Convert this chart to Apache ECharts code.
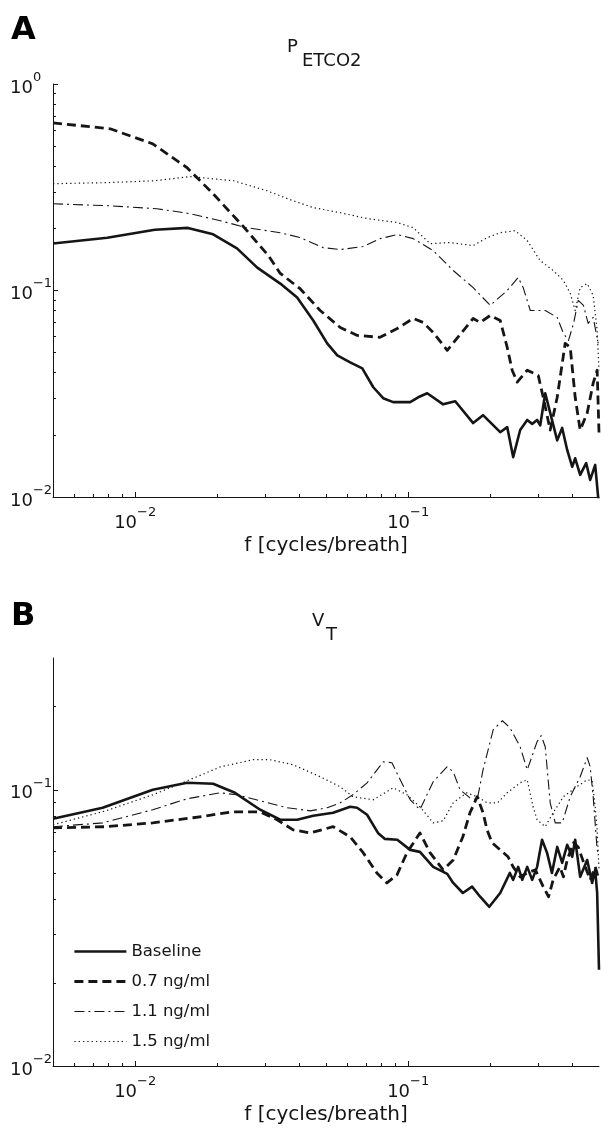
<!DOCTYPE html>
<html>
<head>
<meta charset="utf-8">
<script src="https://cdn.jsdelivr.net/npm/echarts@6.0.0/dist/echarts.min.js"></script>
<style>
html,body{margin:0;padding:0;background:#fff;}
#c{width:601px;height:1129px;}
</style>
</head>
<body>
<div id="c"></div>
<script>
// ---------------- data ----------------
const seriesNames = ['Baseline', '0.7 ng/ml', '1.1 ng/ml', '1.5 ng/ml'];
const panelTitles = [['P', 'ETCO2'], ['V', 'T']];
const panelLetters = ['A', 'B'];
const xAxisName = 'f [cycles/breath]';

const xMajorTicks = [0.01, 0.1];
const xMinorTicks = [0.006, 0.007, 0.008, 0.009, 0.02, 0.03, 0.04, 0.05, 0.06, 0.07, 0.08, 0.09, 0.2, 0.3, 0.4];
const yMajorTicksA = [0.01, 0.1, 1];
const yMinorTicksA = [0.02, 0.03, 0.04, 0.05, 0.06, 0.07, 0.08, 0.09, 0.2, 0.3, 0.4, 0.5, 0.6, 0.7, 0.8, 0.9];
const yMajorTicksB = [0.01, 0.1];
const yMinorTicksB = [0.02, 0.03, 0.04, 0.05, 0.06, 0.07, 0.08, 0.09, 0.2];

// Panel A : P_ETCO2 spectra  [frequency (cycles/breath), power]
const A_baseline = [[0.005,0.169],[0.0079,0.180],[0.0118,0.197],[0.0156,0.201],[0.0193,0.187],[0.0236,0.160],[0.028,0.129],[0.034,0.108],[0.0392,0.0925],[0.0449,0.0716],[0.0505,0.0555],[0.055,0.0485],[0.0613,0.0449],[0.0679,0.042],[0.0745,0.034],[0.081,0.0301],[0.0881,0.0288],[0.1017,0.0288],[0.1088,0.0304],[0.1174,0.0318],[0.1343,0.0281],[0.1487,0.0291],[0.173,0.0228],[0.188,0.0249],[0.2173,0.0206],[0.2305,0.0218],[0.2424,0.0156],[0.2572,0.0211],[0.2729,0.0236],[0.2846,0.0226],[0.2967,0.0236],[0.3045,0.0222],[0.3177,0.0318],[0.3514,0.0188],[0.3665,0.0216],[0.3823,0.0169],[0.3989,0.014],[0.409,0.0154],[0.4266,0.0128],[0.4487,0.0146],[0.4642,0.0121],[0.4842,0.0143],[0.5,0.009]];
const A_07 = [[0.005,0.648],[0.0081,0.607],[0.0116,0.513],[0.0155,0.393],[0.0193,0.294],[0.0249,0.204],[0.0307,0.148],[0.034,0.121],[0.0402,0.102],[0.0476,0.080],[0.0564,0.0662],[0.0651,0.0606],[0.0789,0.0593],[0.0912,0.0655],[0.1043,0.0732],[0.1135,0.070],[0.1235,0.0626],[0.139,0.0513],[0.173,0.0732],[0.1835,0.070],[0.1997,0.0757],[0.2173,0.0716],[0.2305,0.0531],[0.2404,0.0411],[0.2508,0.036],[0.2729,0.0411],[0.2995,0.0388],[0.3123,0.0304],[0.3313,0.0211],[0.3515,0.0304],[0.3759,0.0555],[0.3923,0.0531],[0.409,0.0304],[0.4266,0.0211],[0.4526,0.0255],[0.476,0.0356],[0.4923,0.0411],[0.5,0.0204]];
const A_11 = [[0.005,0.263],[0.0079,0.2575],[0.012,0.249],[0.0159,0.2355],[0.0205,0.2177],[0.0257,0.2013],[0.034,0.1905],[0.0402,0.1803],[0.0488,0.1613],[0.0564,0.1578],[0.0684,0.1633],[0.0789,0.1783],[0.0912,0.1865],[0.1043,0.1783],[0.1235,0.156],[0.1462,0.125],[0.173,0.1033],[0.1997,0.0847],[0.2305,0.10],[0.2529,0.1156],[0.2638,0.1033],[0.2801,0.080],[0.3177,0.080],[0.3515,0.0741],[0.3704,0.062],[0.3866,0.0573],[0.4035,0.0693],[0.4195,0.0895],[0.4386,0.0847],[0.4563,0.0693],[0.476,0.0741],[0.4966,0.0555]];
const A_15 = [[0.005,0.329],[0.0079,0.333],[0.0118,0.340],[0.0159,0.356],[0.0229,0.340],[0.0304,0.304],[0.0379,0.272],[0.0449,0.252],[0.0564,0.238],[0.0707,0.223],[0.0912,0.2133],[0.1043,0.2015],[0.1204,0.1686],[0.1424,0.1706],[0.173,0.165],[0.1947,0.1803],[0.2173,0.1905],[0.2466,0.1948],[0.2729,0.1745],[0.3045,0.1396],[0.3397,0.125],[0.3704,0.1118],[0.3923,0.0968],[0.409,0.080],[0.4266,0.1033],[0.4526,0.108],[0.476,0.0946],[0.4923,0.0641],[0.5,0.0411]];

// Panel B : V_T spectra
const B_baseline = [[0.005,0.0785],[0.0076,0.0861],[0.0116,0.10],[0.0155,0.106],[0.0193,0.1051],[0.0232,0.0975],[0.0287,0.0847],[0.034,0.0779],[0.0392,0.0779],[0.0449,0.0805],[0.0531,0.0826],[0.0613,0.0868],[0.065,0.0861],[0.0707,0.0812],[0.0775,0.0698],[0.0822,0.0664],[0.0912,0.0659],[0.1017,0.0606],[0.1104,0.0596],[0.1235,0.0526],[0.139,0.0496],[0.1462,0.046],[0.1586,0.0423],[0.1714,0.0446],[0.1835,0.041],[0.1982,0.0377],[0.2173,0.0423],[0.2358,0.05],[0.2424,0.0472],[0.2529,0.0526],[0.2618,0.0472],[0.2729,0.0526],[0.2846,0.0472],[0.2967,0.0526],[0.3093,0.0659],[0.3225,0.0592],[0.3362,0.05],[0.3515,0.0621],[0.3665,0.0544],[0.3823,0.0632],[0.3989,0.0572],[0.409,0.0659],[0.4266,0.0484],[0.4526,0.0557],[0.4719,0.046],[0.4842,0.0513],[0.4923,0.0423],[0.5,0.0223]];
const B_07 = [[0.005,0.0728],[0.0078,0.0735],[0.0116,0.0759],[0.0163,0.0792],[0.0228,0.0832],[0.0287,0.0832],[0.0331,0.0779],[0.0379,0.0716],[0.0438,0.0698],[0.0531,0.0735],[0.0613,0.0676],[0.0684,0.0592],[0.0768,0.05],[0.0836,0.046],[0.091,0.0492],[0.099,0.0592],[0.1104,0.0698],[0.1202,0.0592],[0.1343,0.0513],[0.1462,0.0557],[0.1586,0.0676],[0.1684,0.0826],[0.179,0.0944],[0.188,0.0826],[0.1945,0.0716],[0.203,0.0643],[0.2173,0.0606],[0.2322,0.0572],[0.2424,0.0526],[0.2572,0.0484],[0.2729,0.05],[0.2924,0.0513],[0.3123,0.0446],[0.3268,0.041],[0.3397,0.0472],[0.3596,0.0526],[0.3704,0.0484],[0.3823,0.0557],[0.4035,0.0643],[0.4195,0.0621],[0.4386,0.0548],[0.4642,0.0472],[0.4842,0.0526],[0.5,0.0472]];
const B_11 = [[0.005,0.0735],[0.0076,0.0759],[0.0116,0.0847],[0.0155,0.0928],[0.0205,0.0975],[0.0236,0.0959],[0.0287,0.0913],[0.036,0.0861],[0.0438,0.0839],[0.0505,0.0861],[0.0564,0.0897],[0.0627,0.0959],[0.0707,0.106],[0.081,0.1262],[0.0872,0.1253],[0.0935,0.1087],[0.1017,0.092],[0.1104,0.0847],[0.1235,0.107],[0.139,0.1212],[0.1462,0.1162],[0.1549,0.10],[0.1684,0.0935],[0.179,0.092],[0.188,0.118],[0.2049,0.165],[0.2214,0.1778],[0.2358,0.1678],[0.2572,0.1432],[0.2729,0.118],[0.2967,0.1494],[0.307,0.157],[0.3177,0.1432],[0.3313,0.0897],[0.3456,0.0759],[0.3665,0.0759],[0.3923,0.0944],[0.4266,0.1115],[0.4526,0.1306],[0.4642,0.1212],[0.476,0.0944],[0.4923,0.0606],[0.5,0.058]];
const B_15 = [[0.005,0.0747],[0.0078,0.0839],[0.0116,0.0959],[0.0155,0.1078],[0.0205,0.121],[0.027,0.1285],[0.0312,0.1285],[0.0379,0.1232],[0.0476,0.1115],[0.0564,0.1025],[0.0627,0.0944],[0.0745,0.092],[0.0881,0.1017],[0.099,0.0959],[0.1104,0.0868],[0.1235,0.0759],[0.1343,0.0772],[0.1462,0.0897],[0.1635,0.0975],[0.179,0.0944],[0.1947,0.0897],[0.2124,0.0897],[0.2305,0.0975],[0.2572,0.106],[0.2729,0.1087],[0.2867,0.0868],[0.2967,0.0779],[0.3177,0.0735],[0.3397,0.0826],[0.3704,0.0944],[0.4143,0.1025],[0.4526,0.1087],[0.4719,0.1078],[0.4842,0.0868],[0.4923,0.0716],[0.5,0.0513]];

// ---------------- styling ----------------
const FONT = '"DejaVu Sans", "Liberation Sans", sans-serif';
const INK = '#151515';
const lineStyles = [
  { width: 2.6, type: 'solid' },
  { width: 2.8, type: [9, 5] },
  { width: 1.1, type: [10, 4, 2, 4] },
  { width: 1.2, type: [1.3, 3] }
];

function expLabel(v) {
  const e = Math.round(Math.log10(v));
  const s = e < 0 ? '\u2212' + (-e) : String(e);
  return '{b|10}{e|' + s + '}';
}
const richLbl = {
  b: { fontSize: 18, fontFamily: FONT, color: INK, lineHeight: 26, verticalAlign: 'bottom' },
  e: { fontSize: 13, fontFamily: FONT, color: INK, lineHeight: 26, verticalAlign: 'top' }
};

function xAxes(grid) {
  return [
    {
      gridIndex: grid, type: 'log', logBase: 10, min: 0.005, max: 0.5, position: 'bottom',
      axisLine: { show: true, lineStyle: { color: INK, width: 1 } },
      axisTick: { show: true, inside: true, length: 5, customValues: xMajorTicks, lineStyle: { color: INK, width: 1 } },
      axisLabel: { show: true, customValues: xMajorTicks, formatter: expLabel, rich: richLbl, margin: 9 },
      splitLine: { show: false }, minorTick: { show: false },
      name: xAxisName, nameLocation: 'middle', nameGap: 39,
      nameTextStyle: { fontSize: 20, fontFamily: FONT, color: INK }
    },
    {
      gridIndex: grid, type: 'log', logBase: 10, min: 0.005, max: 0.5, position: 'bottom',
      axisLine: { show: false },
      axisTick: { show: true, inside: true, length: 3, customValues: xMinorTicks, lineStyle: { color: INK, width: 1 } },
      axisLabel: { show: false }, splitLine: { show: false }
    }
  ];
}
function yAxes(grid, max, major, minor) {
  return [
    {
      gridIndex: grid, type: 'log', logBase: 10, min: 0.01, max: max, position: 'left',
      axisLine: { show: true, lineStyle: { color: INK, width: 1 } },
      axisTick: { show: true, inside: true, length: 5, customValues: major, lineStyle: { color: INK, width: 1 } },
      axisLabel: { show: true, customValues: major, formatter: expLabel, rich: richLbl, margin: 43, align: 'left' },
      splitLine: { show: false }
    },
    {
      gridIndex: grid, type: 'log', logBase: 10, min: 0.01, max: max, position: 'left',
      axisLine: { show: false },
      axisTick: { show: true, inside: true, length: 3, customValues: minor, lineStyle: { color: INK, width: 1 } },
      axisLabel: { show: false }, splitLine: { show: false }
    }
  ];
}

function mkSeries(name, data, idx, axisIdx) {
  return {
    name: name, type: 'line', data: data, xAxisIndex: axisIdx, yAxisIndex: axisIdx,
    symbol: 'none', showSymbol: false, smooth: false, clip: true,
    lineStyle: Object.assign({ color: INK, cap: 'butt', join: 'round' }, lineStyles[idx]),
    itemStyle: { color: INK },
    emphasis: { disabled: true }, silent: true
  };
}
const panelA = [A_baseline, A_07, A_11, A_15];
const panelB = [B_baseline, B_07, B_11, B_15];
const series = [];
panelA.forEach((d, i) => series.push(mkSeries(seriesNames[i], d, i, 0)));
panelB.forEach((d, i) => series.push(mkSeries(seriesNames[i], d, i, 2)));

const option = {
  animation: false,
  backgroundColor: '#ffffff',
  grid: [
    { left: 53, top: 84, width: 546, height: 413, outerBoundsMode: 'none', containLabel: false },
    { left: 53, top: 658, width: 546, height: 408, outerBoundsMode: 'none', containLabel: false }
  ],
  xAxis: [].concat(xAxes(0), xAxes(1)),
  yAxis: [].concat(yAxes(0, 1, yMajorTicksA, yMinorTicksA), yAxes(1, 0.3, yMajorTicksB, yMinorTicksB)),
  legend: {
    show: true, orient: 'vertical', left: 68, top: 938,
    itemWidth: 52, itemHeight: 14, itemGap: 13, selectedMode: false,
    data: seriesNames.map((n, i) => ({ name: n, lineStyle: { width: lineStyles[i].width, type: lineStyles[i].type } })),
    lineStyle: { width: 'inherit', type: 'inherit' },
    itemStyle: { opacity: 0, borderWidth: 0 },
    textStyle: { fontSize: 16.5, fontFamily: FONT, color: INK, lineHeight: 14 }
  },
  graphic: [
    { type: 'text', silent: true, style: { text: panelLetters[0], x: 11, y: 31, verticalAlign: 'middle', fontSize: 32, fontWeight: 'bold', fontFamily: FONT, fill: '#000' } },
    { type: 'text', silent: true, style: { text: panelLetters[1], x: 11, y: 617, verticalAlign: 'middle', fontSize: 32, fontWeight: 'bold', fontFamily: FONT, fill: '#000' } },
    { type: 'text', silent: true, style: { text: panelTitles[0][0], x: 287, y: 47, verticalAlign: 'middle', fontSize: 18, fontFamily: FONT, fill: INK } },
    { type: 'text', silent: true, style: { text: panelTitles[0][1], x: 302, y: 61, verticalAlign: 'middle', fontSize: 18, fontFamily: FONT, fill: INK } },
    { type: 'text', silent: true, style: { text: panelTitles[1][0], x: 312, y: 621, verticalAlign: 'middle', fontSize: 18, fontFamily: FONT, fill: INK } },
    { type: 'text', silent: true, style: { text: panelTitles[1][1], x: 326, y: 635, verticalAlign: 'middle', fontSize: 18, fontFamily: FONT, fill: INK } }
  ],
  series: series
};

const chart = echarts.init(document.getElementById('c'), null, { renderer: 'canvas', width: 601, height: 1129 });
chart.setOption(option);
</script>
</body>
</html>
